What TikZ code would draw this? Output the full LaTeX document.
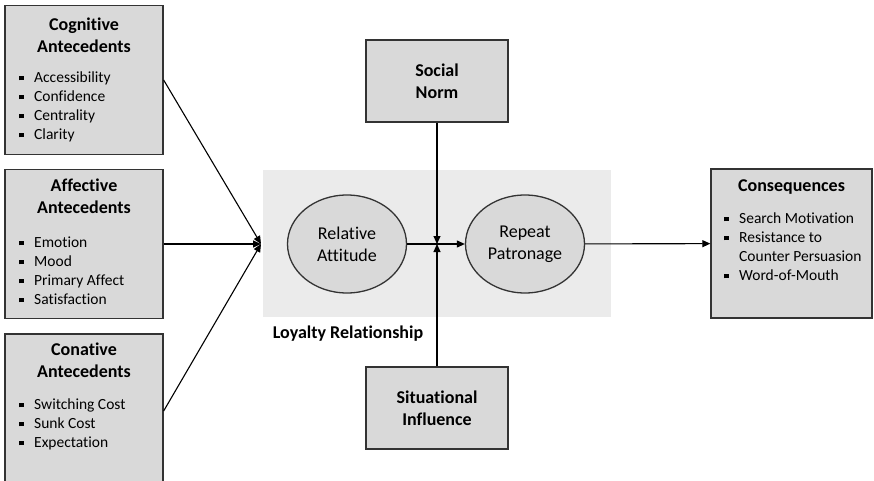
\documentclass[tikz,border=0pt]{standalone}
\usepackage{fontspec}
\setmainfont{Carlito}[Ligatures=NoCommon]
\usetikzlibrary{shapes.geometric,arrows.meta}

\newcommand\sqbul{\makebox[15pt][l]{\rule[2.5pt]{4.5pt}{4.5pt}}}

\tikzset{
  box/.style={draw=black!80, line width=1.3pt, fill=gray!30, minimum width=158pt, minimum height=149pt, inner sep=0pt},
  smallbox/.style={box, minimum width=142pt, minimum height=82pt, font=\fontsize{18}{22}\selectfont\bfseries, align=center},
  head/.style={font=\fontsize{18}{22}\selectfont\bfseries, align=center, anchor=north, inner sep=0pt},
  list/.style={font=\fontsize{15.5}{19}\selectfont, align=left, anchor=north west, inner sep=0pt},
  oval/.style={ellipse, draw=black!80, line width=1.3pt, fill=gray!30, minimum width=119pt, minimum height=98pt, inner sep=0pt, font=\fontsize{18}{22}\selectfont, align=center},
  arr/.style={line width=1.1pt, -{Triangle[length=8pt,width=7pt]}}
}

\begin{document}
\begin{tikzpicture}[x=1pt,y=-1pt]
\useasboundingbox (0,0) rectangle (874,481);
% loyalty relationship
\node[fill=black!8, minimum width=348pt, minimum height=147pt] (loyal) at (437,243.5) {};
\node[font=\fontsize{18}{22}\selectfont\bfseries] (loyaltxt) at (348,334) {Loyalty Relationship};
\node[oval] (rel) at (347,244) {Relative\\Attitude};
\node[oval] (rep) at (525,244) {Repeat\\Patronage};
% antecedents
\node[box] (cog) at (84,80) {};
\node[head] (cogt) at (84,18) {Cognitive\\Antecedents};
\node[list] (cogl) at (19,72) {\sqbul Accessibility\\\sqbul Confidence\\\sqbul Centrality\\\sqbul Clarity};
\node[box] (aff) at (84,244) {};
\node[head] (afft) at (84,179) {Affective\\Antecedents};
\node[list] (affl) at (19,237) {\sqbul Emotion\\\sqbul Mood\\\sqbul Primary Affect\\\sqbul Satisfaction};
\node[box, minimum height=154pt] (cona) at (84,411) {};
\node[head] (conat) at (84,343) {Conative\\Antecedents};
\node[list] (conal) at (19,399) {\sqbul Switching Cost\\\sqbul Sunk Cost\\\sqbul Expectation};
% consequences
\node[box, minimum width=161pt] (cons) at (791.5,243.5) {};
\node[head] (const) at (791.5,179) {Consequences};
\node[list] (consl) at (724,213) {\sqbul Search Motivation\\\sqbul Resistance to\\\hspace*{15pt}Counter Persuasion\\\sqbul Word-of-Mouth};
% moderators
\node[smallbox] (soc) at (437,81) {Social\\Norm};
\node[smallbox] (sit) at (437,408) {Situational\\Influence};
\coordinate (join) at (261,244);
\coordinate (mid) at (437,244);
\draw[arr] (cog.east) -- (join);
\draw[arr] (aff.east) -- (join);
\draw[arr] (cona.east) -- (join);
\draw[arr] (rel) -- (rep);
\draw[arr] (soc) -- (mid);
\draw[arr] (sit) -- (mid);
\draw[arr] (rep) -- (cons);
\end{tikzpicture}
\end{document}
